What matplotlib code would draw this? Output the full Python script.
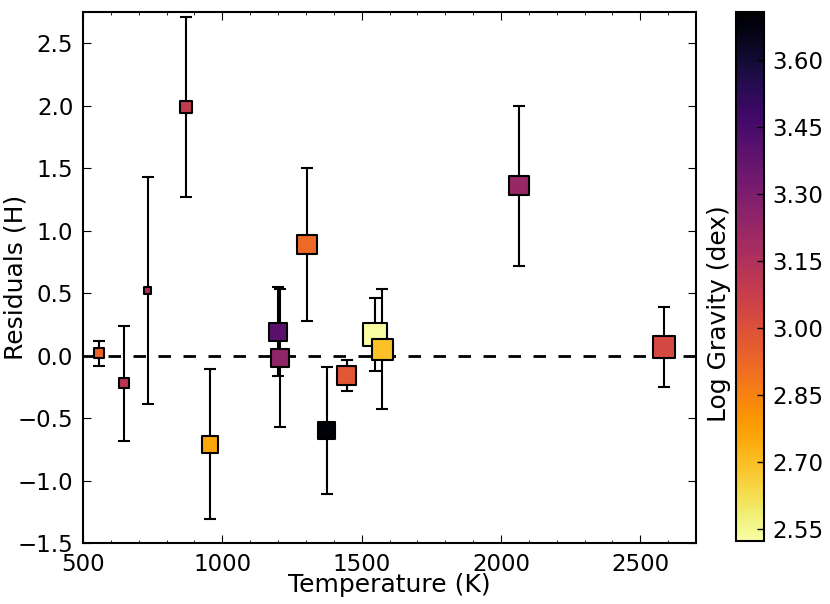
import numpy as np
import matplotlib

matplotlib.use("Agg")
import matplotlib.pyplot as plt
from matplotlib.ticker import MultipleLocator, FormatStrFormatter

# temperature (K), residual in H, symmetric error, log gravity (dex), marker size (pt)
temperature = [557, 647, 732, 869, 956, 1200, 1207, 1304, 1375, 1446, 1548, 1574, 2065, 2586]
residual = [0.02, -0.22, 0.52, 1.99, -0.71, 0.19, -0.02, 0.89, -0.60, -0.16, 0.17, 0.05, 1.36, 0.07]
resid_err = [0.10, 0.46, 0.91, 0.72, 0.60, 0.355, 0.55, 0.615, 0.51, 0.125, 0.29, 0.48, 0.64, 0.32]
log_g = [2.93, 3.12, 3.17, 3.09, 2.76, 3.40, 3.24, 2.92, 3.69, 2.98, 2.53, 2.69, 3.22, 3.03]
marker_pt = [7, 7.5, 5.5, 8.5, 12, 13, 13.5, 14, 12.5, 14, 17, 15, 14, 16]
cbar_ticks = [2.55, 2.70, 2.85, 3.00, 3.15, 3.30, 3.45, 3.60]

plt.rcParams.update({
    "font.family": "DejaVu Sans",
    "font.size": 16.5,
    "axes.labelsize": 18,
    "xtick.direction": "in",
    "ytick.direction": "in",
    "xtick.top": True,
    "ytick.right": True,
    "xtick.major.size": 5.5,
    "ytick.major.size": 5.5,
    "xtick.minor.size": 2.5,
    "xtick.major.pad": 7,
    "ytick.major.pad": 7,
})

fig = plt.figure(figsize=(8.3, 6.04), dpi=100)
ax = fig.add_axes([83 / 830, 1 - 543 / 604, 613 / 830, 531 / 604])
cax = fig.add_axes([736 / 830, 1 - 541 / 604, 28 / 830, 529 / 604])

ax.errorbar(temperature, residual, yerr=resid_err, fmt="none", ecolor="k",
            elinewidth=1.5, capsize=4.5, capthick=1.5, zorder=2)
sc = ax.scatter(temperature, residual, s=np.array(marker_pt) ** 2, c=log_g,
                cmap="inferno_r", vmin=2.523, vmax=3.707, marker="s",
                edgecolors="k", linewidths=1.5, zorder=3)
ax.axhline(0, color="k", lw=2, linestyle=(0, (4.5, 4.5)), zorder=1)

ax.set_xlim(500, 2700)
ax.set_ylim(-1.5, 2.75)
ax.xaxis.set_major_locator(MultipleLocator(500))
ax.xaxis.set_minor_locator(MultipleLocator(100))
ax.yaxis.set_major_locator(MultipleLocator(0.5))
ax.set_xlabel("Temperature (K)", labelpad=-2)
ax.set_ylabel("Residuals (H)")
ax.yaxis.set_label_coords(-0.091, 0.5)
for s in ax.spines.values():
    s.set_linewidth(1.5)

cb = fig.colorbar(sc, cax=cax)
cb.set_ticks(cbar_ticks)
cb.ax.yaxis.set_major_formatter(FormatStrFormatter("%.2f"))
cb.ax.tick_params(direction="in", length=5, width=1, pad=6)
cb.outline.set_linewidth(1.5)
cb.ax.yaxis.set_label_position("left")
cb.set_label("Log Gravity (dex)")
cb.ax.yaxis.set_label_coords(-0.18, 0.43)

fig.savefig("out.png", dpi=100)
